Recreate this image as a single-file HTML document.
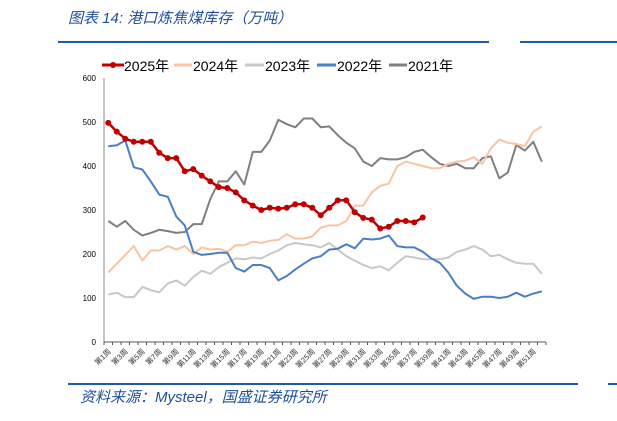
<!DOCTYPE html><html><head><meta charset="utf-8"><style>
body{margin:0;width:617px;height:416px;background:#fff;overflow:hidden;font-family:"Liberation Sans","Noto Sans CJK SC",sans-serif}
</style></head><body>
<svg width="617" height="416" xmlns="http://www.w3.org/2000/svg" font-family="Liberation Sans, Noto Sans CJK SC, sans-serif">
<text x="68" y="23" font-size="15" font-style="italic" fill="#1f4e9c">图表 14:  港口炼焦煤库存（万吨）</text>
<line x1="58" y1="42" x2="489" y2="42" stroke="#1f5aa8" stroke-width="2"/>
<line x1="520" y1="42" x2="617" y2="42" stroke="#1f5aa8" stroke-width="2"/>
<g font-size="14" fill="#000">
<line x1="102" y1="65" x2="124" y2="65" stroke="#c00000" stroke-width="3"/><circle cx="113" cy="65" r="3" fill="#c00000"/><text x="124" y="71">2025年</text>
<line x1="174" y1="65" x2="192" y2="65" stroke="#f8c4a2" stroke-width="3"/><text x="193" y="71">2024年</text>
<line x1="245" y1="65" x2="264" y2="65" stroke="#c8c8c8" stroke-width="3"/><text x="265" y="71">2023年</text>
<line x1="317" y1="65" x2="336" y2="65" stroke="#4a7fc4" stroke-width="3"/><text x="337" y="71">2022年</text>
<line x1="389" y1="65" x2="407" y2="65" stroke="#7f7f7f" stroke-width="3"/><text x="408" y="71">2021年</text>
</g>
<g font-size="8" fill="#000" text-anchor="end">
<text x="96" y="81">600</text><text x="96" y="125">500</text><text x="96" y="169">400</text><text x="96" y="213">300</text><text x="96" y="257">200</text><text x="96" y="301">100</text><text x="96" y="345">0</text>
</g>
<line x1="104" y1="78" x2="104" y2="342" stroke="#888" stroke-width="1"/>
<line x1="104" y1="342" x2="546" y2="342" stroke="#555" stroke-width="1"/>
<g id="ticks"></g><g id="xl" font-size="7.5" fill="#333"></g>
<g id="series"></g>
<line x1="68" y1="384" x2="578" y2="384" stroke="#1f5aa8" stroke-width="2"/>
<line x1="608" y1="384" x2="617" y2="384" stroke="#1f5aa8" stroke-width="2"/>
<text x="80" y="402" font-size="15" font-style="italic" fill="#1f4e9c">资料来源：Mysteel，国盛证券研究所</text>
</svg>
<script>
var NS="http://www.w3.org/2000/svg";
function X(i){return 108.25+8.5*i}function Y(v){return 342-v*0.44}
var t=document.getElementById("ticks"),xl=document.getElementById("xl"),s="";
for(var i=0;i<=52;i++){var x=104+8.5*i;s+='<line x1="'+x+'" y1="342" x2="'+x+'" y2="345" stroke="#555"/>';}
t.innerHTML=s;s="";
for(var i=0;i<52;i+=2){var x=X(i)+3,y=352;s+='<text transform="translate('+x+','+y+') rotate(-45)" text-anchor="end">第'+(i+1)+'周</text>';}
xl.innerHTML=s;
var d={
"#7f7f7f":[275,262,275,255,242,248,255,252,248,250,268,268,325,365,365,388,358,432,432,458,505,495,488,508,508,488,490,470,453,440,410,400,418,415,415,420,432,437,420,405,400,405,395,395,418,422,372,385,448,435,455,410],
"#c8c8c8":[108,112,102,102,125,118,113,133,140,128,148,162,155,170,180,190,188,192,190,200,208,220,225,222,220,215,225,210,195,185,175,168,172,163,180,195,192,188,188,188,192,205,210,218,210,195,198,188,180,178,178,155],
"#f8c4a2":[158,178,198,218,185,208,208,218,210,218,200,215,210,212,205,220,220,228,225,230,232,245,235,235,240,260,265,265,275,310,310,340,355,360,400,410,405,400,395,395,405,410,412,420,405,440,460,453,450,445,478,490],
"#4a7fc4":[445,447,458,397,392,365,335,330,285,265,205,198,200,203,203,168,160,175,175,168,140,150,165,178,190,195,210,212,222,213,235,233,235,242,218,215,215,205,190,180,158,128,110,98,103,103,100,103,112,103,110,115],
"#c00000":[498,478,462,455,455,455,430,418,418,388,393,378,365,352,350,340,322,310,300,305,303,305,313,313,305,288,305,322,322,295,282,278,258,262,275,275,272,283]};
s="";
for(var c in d){var p=d[c].map(function(v,i){return X(i).toFixed(1)+","+Y(v).toFixed(1)}).join(" ");
s+='<polyline points="'+p+'" fill="none" stroke="'+c+'" stroke-width="'+(c=="#c00000"?2.5:2)+'" stroke-linejoin="round"/>';
if(c=="#c00000")d[c].forEach(function(v,i){s+='<circle cx="'+X(i)+'" cy="'+Y(v)+'" r="3" fill="#c00000"/>'});}
document.getElementById("series").innerHTML=s;
</script>
</body></html>
